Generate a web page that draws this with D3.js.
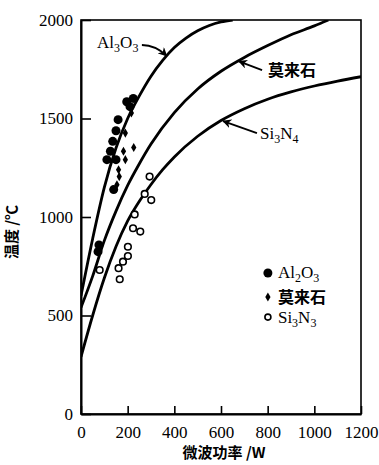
<!DOCTYPE html>
<html><head><meta charset="utf-8">
<script src="https://cdn.jsdelivr.net/npm/d3@7"></script>
<style>
html,body{margin:0;padding:0;background:#fff;}
svg{display:block;}
text{fill:#000;}
</style></head>
<body>
<svg id="c" width="379" height="465"></svg>
<script>
// ---- data ----
const xTicks = [0, 200, 400, 600, 800, 1000, 1200];
const yTicks = [0, 500, 1000, 1500, 2000];

// fitted curves (power W, temperature °C)
const al2o3CurveP = [0, 50, 100, 150, 200, 250, 300, 350, 400, 450, 500, 550, 600, 650];
const al2o3CurveT = [600, 890, 1150, 1350, 1500, 1615, 1715, 1795, 1860, 1908, 1945, 1972, 1990, 2000];
const mulliteCurveP = [0, 50, 100, 150, 200, 250, 300, 400, 500, 600, 700, 800, 900, 1000, 1060];
const mulliteCurveT = [540, 700, 880, 1030, 1160, 1270, 1370, 1530, 1650, 1740, 1810, 1870, 1925, 1970, 2000];
const si3n4CurveP = [0, 50, 100, 150, 200, 250, 300, 350, 400, 500, 600, 700, 800, 900, 1000, 1100, 1200];
const si3n4CurveT = [290, 500, 690, 850, 980, 1080, 1165, 1240, 1305, 1410, 1490, 1550, 1598, 1635, 1665, 1690, 1712];

// measured points
const al2o3P = [73, 77, 140, 111, 150, 126, 136, 150, 159, 196, 224, 210];
const al2o3T = [824, 858, 1139, 1291, 1291, 1334, 1384, 1438, 1494, 1585, 1602, 1560];
const mulliteP = [216, 190, 182, 226, 190, 161, 164, 154];
const mulliteT = [1528, 1426, 1334, 1353, 1291, 1240, 1205, 1164];
const si3n4P = [80, 294, 273, 301, 230, 223, 254, 201, 201, 180, 161, 166];
const si3n4T = [731, 1205, 1117, 1086, 1013, 943, 926, 849, 802, 773, 740, 684];

const legendLabels = ["Al2O3", "莫来石", "Si3N3"];

// ---- layout ----
const svg = d3.select("#c");
const L = 81, R = 361, T = 20, B = 414;
const x = d3.scaleLinear().domain([0, 1200]).range([L, R]);
const y = d3.scaleLinear().domain([0, 2000]).range([B, T]);
const serif = "'Liberation Serif','Times New Roman',serif";
const cjk = "'Noto Sans CJK SC','Noto Sans CJK JP',sans-serif";

svg.append("defs").append("clipPath").attr("id", "clip")
  .append("rect").attr("x", L).attr("y", T).attr("width", R - L).attr("height", B - T);
svg.select("defs").append("marker").attr("id", "arr")
  .attr("viewBox", "0 0 10 10").attr("refX", 9).attr("refY", 5)
  .attr("markerWidth", 9).attr("markerHeight", 9).attr("markerUnits", "userSpaceOnUse")
  .attr("orient", "auto")
  .append("path").attr("d", "M0,0 L10,5 L0,10 L3,5 Z").attr("fill", "#000");

// frame
svg.append("rect").attr("x", L).attr("y", T).attr("width", R - L).attr("height", B - T)
  .attr("fill", "none").attr("stroke", "#000").attr("stroke-width", 1.6);

// axes
const xa = svg.append("g").attr("transform", `translate(0,${B})`)
  .call(d3.axisBottom(x).tickValues(xTicks).tickSizeInner(-8).tickSizeOuter(0).tickPadding(12).tickFormat(d3.format("d")));
const ya = svg.append("g").attr("transform", `translate(${L},0)`)
  .call(d3.axisLeft(y).tickValues(yTicks).tickSizeInner(-10).tickSizeOuter(0).tickPadding(8).tickFormat(d3.format("d")));
[xa, ya].forEach(g => {
  g.select(".domain").attr("stroke", "#000").attr("stroke-width", 2);
  g.selectAll(".tick line").attr("stroke", "#000").attr("stroke-width", 1.6);
  g.selectAll(".tick text").attr("font-family", serif).attr("font-size", 17).attr("fill", "#000");
});

// curves
const line = d3.line().x(d => x(d[0])).y(d => y(d[1])).curve(d3.curveMonotoneX);
const curves = [
  [al2o3CurveP, al2o3CurveT],
  [mulliteCurveP, mulliteCurveT],
  [si3n4CurveP, si3n4CurveT]
];
svg.append("g").attr("clip-path", "url(#clip)").selectAll("path").data(curves).join("path")
  .attr("d", c => line(c[0].map((p, i) => [p, c[1][i]])))
  .attr("fill", "none").attr("stroke", "#000").attr("stroke-width", 2.8);

// points
svg.append("g").selectAll("circle").data(si3n4P.map((p, i) => [p, si3n4T[i]])).join("circle")
  .attr("cx", d => x(d[0])).attr("cy", d => y(d[1])).attr("r", 3.3)
  .attr("fill", "#fff").attr("stroke", "#000").attr("stroke-width", 1.6);
svg.append("g").selectAll("circle").data(al2o3P.map((p, i) => [p, al2o3T[i]])).join("circle")
  .attr("cx", d => x(d[0])).attr("cy", d => y(d[1])).attr("r", 4.5).attr("fill", "#000");
const diamond = d3.symbol().type(d3.symbolDiamond).size(24);
svg.append("g").selectAll("path").data(mulliteP.map((p, i) => [p, mulliteT[i]])).join("path")
  .attr("transform", d => `translate(${x(d[0])},${y(d[1])})`).attr("d", diamond).attr("fill", "#000");

// chemical formula text with subscript digits
function richChem(g, str, size) {
  const t = g.append("text").attr("font-family", serif).attr("font-size", size);
  let prevSub = false;
  str.match(/[A-Za-z]+|\d+/g).forEach(s => {
    const sub = /\d/.test(s);
    const sp = t.append("tspan").text(s).attr("font-size", sub ? Math.round(size * 0.68) : size);
    if (sub && !prevSub) sp.attr("dy", 4);
    if (!sub && prevSub) sp.attr("dy", -4);
    prevSub = sub;
  });
  return t;
}

// curve annotations (data coordinates)
const ann = svg.append("g");
richChem(ann, "Al3O3", 17).attr("x", x(69)).attr("y", y(1858));
ann.append("path").attr("d", `M${x(261)},${y(1873)} Q${x(320)},${y(1872)} ${x(367)},${y(1818)}`)
  .attr("fill", "none").attr("stroke", "#000").attr("stroke-width", 1.8).attr("marker-end", "url(#arr)");
ann.append("text").text("莫来石").attr("x", x(801)).attr("y", y(1716))
  .attr("font-family", cjk).attr("font-weight", 700).attr("font-size", 16);
ann.append("path").attr("d", `M${x(776)},${y(1746)} L${x(677)},${y(1790)}`)
  .attr("stroke", "#000").attr("stroke-width", 1.8).attr("marker-end", "url(#arr)");
richChem(ann, "Si3N4", 17).attr("x", x(767)).attr("y", y(1396));
ann.append("path").attr("d", `M${x(754)},${y(1426)} L${x(609)},${y(1487)}`)
  .attr("stroke", "#000").attr("stroke-width", 1.8).attr("marker-end", "url(#arr)");

// legend
const lg = svg.append("g");
const lgY = [716, 594, 492], lgTY = [690, 563, 462];
lg.append("circle").attr("cx", x(801)).attr("cy", y(lgY[0])).attr("r", 4.5).attr("fill", "#000");
lg.append("path").attr("transform", `translate(${x(801)},${y(lgY[1])})`).attr("d", diamond).attr("fill", "#000");
lg.append("circle").attr("cx", x(801)).attr("cy", y(lgY[2])).attr("r", 3).attr("fill", "#fff")
  .attr("stroke", "#000").attr("stroke-width", 1.6);
richChem(lg, legendLabels[0], 17).attr("x", x(844)).attr("y", y(lgTY[0]));
lg.append("text").text(legendLabels[1]).attr("x", x(844)).attr("y", y(lgTY[1]))
  .attr("font-family", cjk).attr("font-weight", 700).attr("font-size", 16);
richChem(lg, legendLabels[2], 17).attr("x", x(844)).attr("y", y(lgTY[2]));

// axis titles
svg.append("text").text("微波功率 /W").attr("x", (L + R) / 2 + 3).attr("y", 458)
  .attr("text-anchor", "middle").attr("font-family", cjk).attr("font-weight", 700).attr("font-size", 15);
svg.append("text").text("温度 /℃").attr("transform", `translate(17,${232}) rotate(-90)`)
  .attr("text-anchor", "middle").attr("font-family", cjk).attr("font-weight", 700).attr("font-size", 15);
</script>
</body></html>
